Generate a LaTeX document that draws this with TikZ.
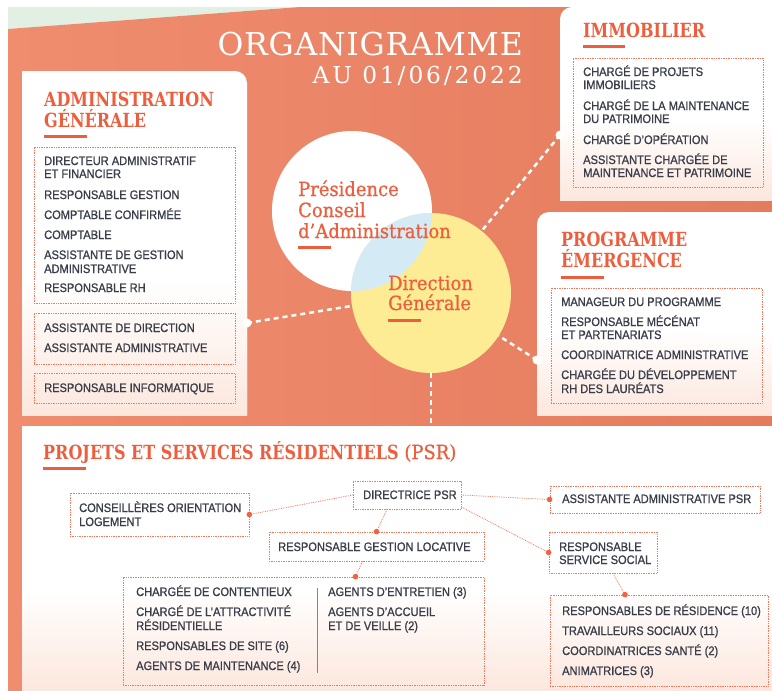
\documentclass[tikz,border=0pt]{standalone}
\usepackage{fontspec}
\usetikzlibrary{fit,calc}
\newfontfamily\bodyfont[FakeStretch=0.9,FakeBold=1.0]{Liberation Sans}
\newfontfamily\slab[FakeStretch=0.92,FakeBold=0.8]{DejaVu Serif}
\newfontfamily\slabb[FakeStretch=0.82]{DejaVu Serif Bold}
\newfontfamily\titlefont[LetterSpace=2.5]{DejaVu Serif}
\newfontfamily\datefont[LetterSpace=12.5]{DejaVu Serif}

\definecolor{orgL}{RGB}{240,141,111}
\definecolor{orgR}{RGB}{229,123,93}
\definecolor{mint}{RGB}{226,240,228}
\definecolor{peach}{RGB}{252,231,221}
\definecolor{accent}{RGB}{236,94,62}
\definecolor{ink}{RGB}{58,62,74}
\definecolor{dotline}{RGB}{240,120,92}
\definecolor{dotfill}{RGB}{240,98,64}
\definecolor{sun}{RGB}{253,236,148}
\definecolor{sky}{RGB}{212,235,246}

\begin{document}
\begin{tikzpicture}[x=1pt,y=-1pt,
  item/.style={anchor=base west, inner sep=0pt, text=ink, font=\bodyfont\fontsize{12.3}{14}\selectfont},
  head/.style={anchor=base west, inner sep=0pt, text=accent, font=\slabb\fontsize{19.5}{22}\selectfont},
  clabel/.style={anchor=base west, inner sep=0pt, text=accent, font=\slab\fontsize{19.5}{22}\selectfont},
  dbox/.style={draw=dotline, densely dotted, line width=0.7pt, inner sep=0pt},
  bar/.style={accent, line width=3pt},
  link/.style={draw=dotline, densely dotted, line width=0.8pt},
  trunk/.style={white, dash pattern=on 5pt off 4pt, line width=2.5pt},
]
\useasboundingbox (0,0) rectangle (772,691);
\fill[white] (0,0) rectangle (772,691);

% backdrop
\fill[mint] (8,7) -- (300,7) -- (8,29) -- cycle;
\shade[left color=orgL, right color=orgR] (8,29) -- (300,7) -- (772,7) -- (772,691) -- (8,691) -- cycle;

% panels
\fill[white] (22,415) -- (22,71) -- (235,71) arc[start angle=90,end angle=0,radius=12pt] -- (247,415) -- cycle;
\shade[top color=white, bottom color=peach] (22,280) rectangle (247,415);

\fill[white] (560,200) -- (560,19) arc[start angle=180,end angle=90,radius=12pt] -- (772,7) -- (772,200) -- cycle;
\shade[top color=white, bottom color=peach] (560,120) rectangle (772,200);

\fill[white] (537,415) -- (537,224) arc[start angle=180,end angle=90,radius=12pt] -- (772,212) -- (772,415) -- cycle;
\shade[top color=white, bottom color=peach] (537,330) rectangle (772,415);

\fill[white] (22,426) rectangle (772,691);
\shade[top color=white, bottom color=peach] (22,590) rectangle (772,691);

% central circles
\node[circle, fill=white, minimum size=160pt, inner sep=0pt] (pca) at (352,211) {};
\node[circle, fill=sun, minimum size=160pt, inner sep=0pt] (dg) at (431,293) {};
\begin{scope}
  \clip (352,211) circle[radius=80pt];
  \fill[sky] (431,293) circle[radius=80pt];
\end{scope}

% trunk connectors
\coordinate (admT) at (247,323);
\coordinate (immT) at (560,135);
\coordinate (prgT) at (537,360);
\coordinate (psrT) at (431,426);
\draw[trunk] (admT) -- (dg);
\draw[trunk] (immT) -- (dg);
\draw[trunk] (prgT) -- (dg);
\draw[trunk] (dg) -- (psrT);
\foreach \c in {admT,immT,prgT} \fill[white] (\c) circle[radius=4.5pt];

% title
\node[anchor=base east, inner sep=0pt, text=white, font=\titlefont\fontsize{31.5}{34}\selectfont] (ttl) at (523,55) {ORGANIGRAMME};
\node[anchor=base east, inner sep=0pt, text=white, font=\datefont\fontsize{23.3}{26}\selectfont] (date) at (523,83) {AU 01/06/2022};

% circle labels
\node[clabel] (pc1) at (298,196) {Présidence};
\node[clabel] (pc2) at (298,217) {Conseil};
\node[clabel] (pc3) at (298,238) {d’Administration};
\draw[bar] (298,247) -- (331,247);
\node[clabel] (dg1) at (388,290) {Direction};
\node[clabel] (dg2) at (388,310) {Générale};
\draw[bar] (388,320) -- (421,320);

% administration generale
\node[head] (admH1) at (44,106) {ADMINISTRATION};
\node[head] (admH2) at (44,127) {GÉNÉRALE};
\draw[bar] (44,136) -- (87,136);
\node[dbox, fit={(34,147) (235,303)}] (admA) {};
\node[dbox, fit={(34,313) (235,364)}] (admB) {};
\node[dbox, fit={(34,373) (235,403)}] (admC) {};
\foreach \ty/\tx [count=\i] in {165/DIRECTEUR ADMINISTRATIF, 178/ET FINANCIER,
  199/RESPONSABLE GESTION, 219/COMPTABLE CONFIRMÉE, 239/COMPTABLE,
  259/ASSISTANTE DE GESTION, 273/ADMINISTRATIVE, 292/RESPONSABLE RH,
  332/ASSISTANTE DE DIRECTION, 352/ASSISTANTE ADMINISTRATIVE,
  392/RESPONSABLE INFORMATIQUE}
  \node[item] (adm\i) at (44,\ty) {\tx};

% immobilier
\node[head] (immH) at (583,37) {IMMOBILIER};
\draw[bar] (583,46) -- (625,46);
\node[dbox, fit={(573,58) (763,187)}] (immA) {};
\foreach \ty/\tx [count=\i] in {76/CHARGÉ DE PROJETS, 89/IMMOBILIERS,
  110/CHARGÉ DE LA MAINTENANCE, 123/DU PATRIMOINE, 144/CHARGÉ D’OPÉRATION,
  164/ASSISTANTE CHARGÉE DE, 177/MAINTENANCE ET PATRIMOINE}
  \node[item] (imm\i) at (583,\ty) {\tx};

% programme emergence
\node[head] (prgH1) at (561,246) {PROGRAMME};
\node[head] (prgH2) at (561,267) {ÉMERGENCE};
\draw[bar] (561,277) -- (604,277);
\node[dbox, fit={(551,288) (762,403)}] (prgA) {};
\foreach \ty/\tx [count=\i] in {306/MANAGEUR DU PROGRAMME, 326/RESPONSABLE MÉCÉNAT,
  339/ET PARTENARIATS, 359/COORDINATRICE ADMINISTRATIVE,
  379/CHARGÉE DU DÉVELOPPEMENT, 393/RH DES LAURÉATS}
  \node[item] (prg\i) at (561,\ty) {\tx};

% projets et services residentiels
\node[head] (psrH) at (43,459) {PROJETS ET SERVICES RÉSIDENTIELS{\slab\ (PSR)}};
\draw[bar] (43,468) -- (86,468);

\node[dbox, fit={(70,493) (249,536)}] (cons) {};
\node[dbox, fit={(353,481) (461,509)}] (dirpsr) {};
\node[dbox, fit={(550,486) (760,513)}] (assist) {};
\node[dbox, fit={(269,532) (484,561)}] (gestion) {};
\node[dbox, fit={(549,532) (657,573)}] (social) {};
\node[dbox, fit={(123,577) (484,685)}] (grpl) {};
\node[dbox, fit={(550,595) (768,686)}] (grpr) {};

\node[item] (cons1) at (79,512) {CONSEILLÈRES ORIENTATION};
\node[item] (cons2) at (79,526) {LOGEMENT};
\node[item] (dir1) at (363,499) {DIRECTRICE PSR};
\node[item] (ast1) at (562,503) {ASSISTANTE ADMINISTRATIVE PSR};
\node[item] (ges1) at (278,551) {RESPONSABLE GESTION LOCATIVE};
\node[item] (soc1) at (559,551) {RESPONSABLE};
\node[item] (soc2) at (559,564) {SERVICE SOCIAL};
\foreach \ty/\tx [count=\i] in {596/CHARGÉE DE CONTENTIEUX, 616/CHARGÉ DE L’ATTRACTIVITÉ,
  630/RÉSIDENTIELLE, 650/RESPONSABLES DE SITE (6), 670/AGENTS DE MAINTENANCE (4)}
  \node[item] (gl\i) at (136,\ty) {\tx};
\foreach \ty/\tx [count=\i] in {596/AGENTS D’ENTRETIEN (3), 616/AGENTS D’ACCUEIL,
  630/ET DE VEILLE (2)}
  \node[item] (gm\i) at (328,\ty) {\tx};
\draw[accent, line width=0.9pt] (317,588) -- (317,673);
\foreach \ty/\tx [count=\i] in {615/RESPONSABLES DE RÉSIDENCE (10), 635/TRAVAILLEURS SOCIAUX (11),
  655/COORDINATRICES SANTÉ (2), 675/ANIMATRICES (3)}
  \node[item] (gr\i) at (562,\ty) {\tx};

% links inside the PSR panel
\draw[link] (dirpsr.west) -- (cons.east);
\draw[link] (dirpsr.east) -- (assist.west);
\draw[link] ([yshift=-12pt]dirpsr.east) -- (social.west);
\draw[link] ([xshift=-20pt]dirpsr.south) -- (gestion.north);
\draw[link] ([xshift=-14pt]gestion.south) -- ([xshift=52pt]grpl.north);
\draw[link] ([xshift=10pt]social.south) -- ([xshift=-34pt]grpr.north);
\foreach \p in {cons.east, assist.west, social.west, gestion.north}
  \fill[dotfill] (\p) circle[radius=2.8pt];
\fill[dotfill] ([xshift=52pt]grpl.north) circle[radius=2.8pt];
\fill[dotfill] ([xshift=-34pt]grpr.north) circle[radius=2.8pt];
\end{tikzpicture}
\end{document}
